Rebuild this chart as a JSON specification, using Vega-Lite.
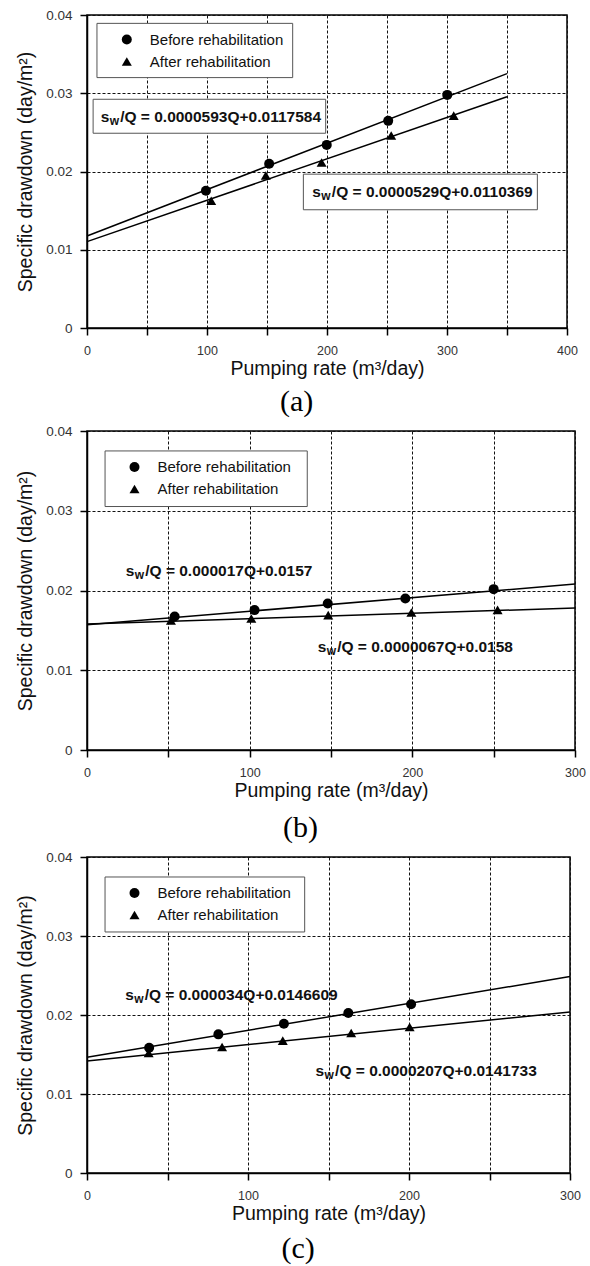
{
  "$schema": "https://vega.github.io/schema/vega-lite/v6.json",
  "background": "white",
  "padding": {"left": 14, "top": 7, "right": 0, "bottom": 0},
  "spacing": 5,
  "datasets": {
    "a_points": [
      {"series": "Before rehabilitation", "Q": 99.1, "sQ": 0.01753},
      {"series": "Before rehabilitation", "Q": 151.8, "sQ": 0.02098},
      {"series": "Before rehabilitation", "Q": 199.8, "sQ": 0.0234},
      {"series": "Before rehabilitation", "Q": 251, "sQ": 0.02647},
      {"series": "Before rehabilitation", "Q": 300.2, "sQ": 0.02979},
      {"series": "After rehabilitation", "Q": 103.5, "sQ": 0.01626},
      {"series": "After rehabilitation", "Q": 149, "sQ": 0.01949},
      {"series": "After rehabilitation", "Q": 195.5, "sQ": 0.02115},
      {"series": "After rehabilitation", "Q": 253.5, "sQ": 0.0246},
      {"series": "After rehabilitation", "Q": 305.6, "sQ": 0.02715}
    ],
    "a_lines": [
      {"series": "Before rehabilitation", "Q": 0, "sQ": 0.0117584},
      {"series": "Before rehabilitation", "Q": 350, "sQ": 0.0325134},
      {"series": "After rehabilitation", "Q": 0, "sQ": 0.0110369},
      {"series": "After rehabilitation", "Q": 350, "sQ": 0.0295519}
    ],
    "b_points": [
      {"series": "Before rehabilitation", "Q": 53.9, "sQ": 0.01674},
      {"series": "Before rehabilitation", "Q": 103, "sQ": 0.01754},
      {"series": "Before rehabilitation", "Q": 148, "sQ": 0.01837},
      {"series": "Before rehabilitation", "Q": 195.7, "sQ": 0.019},
      {"series": "Before rehabilitation", "Q": 250, "sQ": 0.02017},
      {"series": "After rehabilitation", "Q": 51.6, "sQ": 0.01624},
      {"series": "After rehabilitation", "Q": 101, "sQ": 0.01649},
      {"series": "After rehabilitation", "Q": 148.3, "sQ": 0.01691},
      {"series": "After rehabilitation", "Q": 199.4, "sQ": 0.01724},
      {"series": "After rehabilitation", "Q": 252.4, "sQ": 0.01758}
    ],
    "b_lines": [
      {"series": "Before rehabilitation", "Q": 0, "sQ": 0.0157},
      {"series": "Before rehabilitation", "Q": 300, "sQ": 0.0208},
      {"series": "After rehabilitation", "Q": 0, "sQ": 0.0158},
      {"series": "After rehabilitation", "Q": 300, "sQ": 0.01781}
    ],
    "c_points": [
      {"series": "Before rehabilitation", "Q": 38.6, "sQ": 0.01586},
      {"series": "Before rehabilitation", "Q": 81.6, "sQ": 0.01755},
      {"series": "Before rehabilitation", "Q": 122.3, "sQ": 0.0189},
      {"series": "Before rehabilitation", "Q": 162.3, "sQ": 0.02025},
      {"series": "Before rehabilitation", "Q": 201.3, "sQ": 0.02135},
      {"series": "After rehabilitation", "Q": 38.3, "sQ": 0.01519},
      {"series": "After rehabilitation", "Q": 83.9, "sQ": 0.01595},
      {"series": "After rehabilitation", "Q": 121.6, "sQ": 0.01675},
      {"series": "After rehabilitation", "Q": 164.1, "sQ": 0.01772},
      {"series": "After rehabilitation", "Q": 200.4, "sQ": 0.01848}
    ],
    "c_lines": [
      {"series": "Before rehabilitation", "Q": 0, "sQ": 0.0146609},
      {"series": "Before rehabilitation", "Q": 300, "sQ": 0.0248609},
      {"series": "After rehabilitation", "Q": 0, "sQ": 0.0141733},
      {"series": "After rehabilitation", "Q": 300, "sQ": 0.0203833}
    ],
    "one": [{"n": 1}]
  },
  "config": {
    "view": {"stroke": "black", "strokeWidth": 1.5},
    "axis": {
      "domainColor": "black", "domainWidth": 1.5,
      "tickColor": "black", "tickWidth": 1.5, "tickSize": 7,
      "gridColor": "#111", "gridDash": [3, 2], "gridWidth": 1, "gridOpacity": 1,
      "labelFont": "Liberation Sans", "labelFontSize": 12.5, "labelColor": "#333",
      "labelFlush": false, "labelOverlap": false,
      "titleFont": "Liberation Sans", "titleFontSize": 19.5, "titleFontWeight": "normal", "titleColor": "#111"
    },
    "axisX": {"labelPadding": 9, "titlePadding": 3},
    "axisY": {"labelPadding": 8, "titlePadding": 10, "labelFontSize": 13.5},
    "legend": {
      "padding": 9.5,
      "symbolOffset": 12.5, "labelOffset": 15.5, "rowPadding": 6,
      "labelFont": "Liberation Sans", "labelFontSize": 15, "labelColor": "#111",
      "symbolFillColor": "black", "symbolStrokeColor": "black", "symbolSize": 100, "symbolStrokeWidth": 0
    },
    "title": {"orient": "bottom", "font": "Liberation Serif", "fontSize": 30, "fontWeight": "normal", "color": "black", "anchor": "middle", "frame": "bounds", "offset": 9},
    "text": {"font": "Liberation Sans", "fontWeight": "bold", "color": "#111", "align": "left", "baseline": "middle"}
  },
  "resolve": {
    "scale": {"x": "independent", "y": "independent", "shape": "independent"},
    "legend": {"shape": "independent"}
  },
  "vconcat": [
    {
      "width": 480, "height": 313,
      "title": "(a)",
      "layer": [
        {"data": {"name": "a_lines"}, "mark": {"type": "line", "color": "black", "strokeWidth": 1.5},
         "encoding": {
           "x": {"field": "Q", "type": "quantitative", "scale": {"domain": [0, 400], "nice": false},
                 "axis": {"values": [0, 50, 100, 150, 200, 250, 300, 350, 400], "labelExpr": "datum.value % 100 == 0 ? datum.label : ''", "title": "Pumping rate (m³/day)"}},
           "y": {"field": "sQ", "type": "quantitative", "scale": {"domain": [0, 0.04], "nice": false},
                 "axis": {"values": [0, 0.005, 0.01, 0.015, 0.02, 0.025, 0.03, 0.035, 0.04], "labelExpr": "round(datum.value*1000) % 10 == 0 ? format(datum.value, '~g') : ''", "title": "Specific drawdown (day/m²)"}},
           "detail": {"field": "series"}}},
        {"data": {"name": "one"}, "mark": {"type": "rect", "fill": "white", "stroke": "#555", "strokeWidth": 1},
         "encoding": {"x": {"datum": 8.3}, "x2": {"datum": 171.4}, "y": {"datum": 0.03893}, "y2": {"datum": 0.032}}},
        {"data": {"name": "one"}, "mark": {"type": "rect", "fill": "white", "stroke": "#555", "strokeWidth": 1},
         "encoding": {"x": {"datum": 5.1}, "x2": {"datum": 198.9}, "y": {"datum": 0.02923}, "y2": {"datum": 0.02489}}},
        {"data": {"name": "one"}, "mark": {"type": "rect", "fill": "white", "stroke": "#555", "strokeWidth": 1},
         "encoding": {"x": {"datum": 180.3}, "x2": {"datum": 375.3}, "y": {"datum": 0.01966}, "y2": {"datum": 0.01511}}},
        {"data": {"name": "a_points"}, "mark": {"type": "point", "filled": true, "size": 100, "opacity": 1, "color": "black"},
         "encoding": {
           "x": {"field": "Q", "type": "quantitative", "title": "Pumping rate (m³/day)"},
           "y": {"field": "sQ", "type": "quantitative", "title": "Specific drawdown (day/m²)"},
           "shape": {"field": "series", "type": "nominal",
             "scale": {"domain": ["Before rehabilitation", "After rehabilitation"], "range": ["circle", "triangle-up"]},
             "legend": {"orient": "none", "legendX": 10.3, "legendY": 7.5, "title": null}}}},
        {"data": {"name": "one"}, "mark": {"type": "text", "text": "s", "fontSize": 15.5},
         "encoding": {"x": {"datum": 11.4}, "y": {"datum": 0.02693}}},
        {"data": {"name": "one"}, "mark": {"type": "text", "text": "w", "fontSize": 12, "dx": 9, "dy": 4},
         "encoding": {"x": {"datum": 11.4}, "y": {"datum": 0.02693}}},
        {"data": {"name": "one"}, "mark": {"type": "text", "text": "/Q = 0.0000593Q+0.0117584", "fontSize": 15.5, "dx": 19.5},
         "encoding": {"x": {"datum": 11.4}, "y": {"datum": 0.02693}}},
        {"data": {"name": "one"}, "mark": {"type": "text", "text": "s", "fontSize": 15.5},
         "encoding": {"x": {"datum": 187.8}, "y": {"datum": 0.01736}}},
        {"data": {"name": "one"}, "mark": {"type": "text", "text": "w", "fontSize": 12, "dx": 9, "dy": 4},
         "encoding": {"x": {"datum": 187.8}, "y": {"datum": 0.01736}}},
        {"data": {"name": "one"}, "mark": {"type": "text", "text": "/Q = 0.0000529Q+0.0110369", "fontSize": 15.5, "dx": 19.5},
         "encoding": {"x": {"datum": 187.8}, "y": {"datum": 0.01736}}}
      ]
    },
    {
      "width": 488, "height": 319,
      "title": {"text": "(b)", "offset": 13},
      "layer": [
        {"data": {"name": "b_lines"}, "mark": {"type": "line", "color": "black", "strokeWidth": 1.5},
         "encoding": {
           "x": {"field": "Q", "type": "quantitative", "scale": {"domain": [0, 300], "nice": false},
                 "axis": {"values": [0, 50, 100, 150, 200, 250, 300], "labelExpr": "datum.value % 100 == 0 ? datum.label : ''", "title": "Pumping rate (m³/day)"}},
           "y": {"field": "sQ", "type": "quantitative", "scale": {"domain": [0, 0.04], "nice": false},
                 "axis": {"values": [0, 0.005, 0.01, 0.015, 0.02, 0.025, 0.03, 0.035, 0.04], "labelExpr": "round(datum.value*1000) % 10 == 0 ? format(datum.value, '~g') : ''", "title": "Specific drawdown (day/m²)"}},
           "detail": {"field": "series"}}},
        {"data": {"name": "one"}, "mark": {"type": "rect", "fill": "white", "stroke": "#555", "strokeWidth": 1},
         "encoding": {"x": {"datum": 11.1}, "x2": {"datum": 135.4}, "y": {"datum": 0.0375}, "y2": {"datum": 0.03053}}},
        {"data": {"name": "b_points"}, "mark": {"type": "point", "filled": true, "size": 100, "opacity": 1, "color": "black"},
         "encoding": {
           "x": {"field": "Q", "type": "quantitative", "title": "Pumping rate (m³/day)"},
           "y": {"field": "sQ", "type": "quantitative", "title": "Specific drawdown (day/m²)"},
           "shape": {"field": "series", "type": "nominal",
             "scale": {"domain": ["Before rehabilitation", "After rehabilitation"], "range": ["circle", "triangle-up"]},
             "legend": {"orient": "none", "legendX": 18, "legendY": 19, "title": null}}}},
        {"data": {"name": "one"}, "mark": {"type": "text", "text": "s", "fontSize": 15.5},
         "encoding": {"x": {"datum": 23.8}, "y": {"datum": 0.02246}}},
        {"data": {"name": "one"}, "mark": {"type": "text", "text": "w", "fontSize": 12, "dx": 9, "dy": 4},
         "encoding": {"x": {"datum": 23.8}, "y": {"datum": 0.02246}}},
        {"data": {"name": "one"}, "mark": {"type": "text", "text": "/Q = 0.000017Q+0.0157", "fontSize": 15.5, "dx": 19.5},
         "encoding": {"x": {"datum": 23.8}, "y": {"datum": 0.02246}}},
        {"data": {"name": "one"}, "mark": {"type": "text", "text": "s", "fontSize": 15.5},
         "encoding": {"x": {"datum": 141.8}, "y": {"datum": 0.01287}}},
        {"data": {"name": "one"}, "mark": {"type": "text", "text": "w", "fontSize": 12, "dx": 9, "dy": 4},
         "encoding": {"x": {"datum": 141.8}, "y": {"datum": 0.01287}}},
        {"data": {"name": "one"}, "mark": {"type": "text", "text": "/Q = 0.0000067Q+0.0158", "fontSize": 15.5, "dx": 19.5},
         "encoding": {"x": {"datum": 141.8}, "y": {"datum": 0.01287}}}
      ]
    },
    {
      "width": 483, "height": 316,
      "title": {"text": "(c)", "offset": 11},
      "layer": [
        {"data": {"name": "c_lines"}, "mark": {"type": "line", "color": "black", "strokeWidth": 1.5},
         "encoding": {
           "x": {"field": "Q", "type": "quantitative", "scale": {"domain": [0, 300], "nice": false},
                 "axis": {"values": [0, 50, 100, 150, 200, 250, 300], "labelExpr": "datum.value % 100 == 0 ? datum.label : ''", "title": "Pumping rate (m³/day)"}},
           "y": {"field": "sQ", "type": "quantitative", "scale": {"domain": [0, 0.04], "nice": false},
                 "axis": {"values": [0, 0.005, 0.01, 0.015, 0.02, 0.025, 0.03, 0.035, 0.04], "labelExpr": "round(datum.value*1000) % 10 == 0 ? format(datum.value, '~g') : ''", "title": "Specific drawdown (day/m²)"}},
           "detail": {"field": "series"}}},
        {"data": {"name": "one"}, "mark": {"type": "rect", "fill": "white", "stroke": "#555", "strokeWidth": 1},
         "encoding": {"x": {"datum": 11.2}, "x2": {"datum": 135.2}, "y": {"datum": 0.03747}, "y2": {"datum": 0.03051}}},
        {"data": {"name": "c_points"}, "mark": {"type": "point", "filled": true, "size": 100, "opacity": 1, "color": "black"},
         "encoding": {
           "x": {"field": "Q", "type": "quantitative", "title": "Pumping rate (m³/day)"},
           "y": {"field": "sQ", "type": "quantitative", "title": "Specific drawdown (day/m²)"},
           "shape": {"field": "series", "type": "nominal",
             "scale": {"domain": ["Before rehabilitation", "After rehabilitation"], "range": ["circle", "triangle-up"]},
             "legend": {"orient": "none", "legendX": 18, "legendY": 19, "title": null}}}},
        {"data": {"name": "one"}, "mark": {"type": "text", "text": "s", "fontSize": 15.5},
         "encoding": {"x": {"datum": 23.7}, "y": {"datum": 0.0225}}},
        {"data": {"name": "one"}, "mark": {"type": "text", "text": "w", "fontSize": 12, "dx": 9, "dy": 4},
         "encoding": {"x": {"datum": 23.7}, "y": {"datum": 0.0225}}},
        {"data": {"name": "one"}, "mark": {"type": "text", "text": "/Q = 0.000034Q+0.0146609", "fontSize": 15.5, "dx": 19.5},
         "encoding": {"x": {"datum": 23.7}, "y": {"datum": 0.0225}}},
        {"data": {"name": "one"}, "mark": {"type": "text", "text": "s", "fontSize": 15.5},
         "encoding": {"x": {"datum": 142}, "y": {"datum": 0.01291}}},
        {"data": {"name": "one"}, "mark": {"type": "text", "text": "w", "fontSize": 12, "dx": 9, "dy": 4},
         "encoding": {"x": {"datum": 142}, "y": {"datum": 0.01291}}},
        {"data": {"name": "one"}, "mark": {"type": "text", "text": "/Q = 0.0000207Q+0.0141733", "fontSize": 15.5, "dx": 19.5},
         "encoding": {"x": {"datum": 142}, "y": {"datum": 0.01291}}}
      ]
    }
  ]
}
